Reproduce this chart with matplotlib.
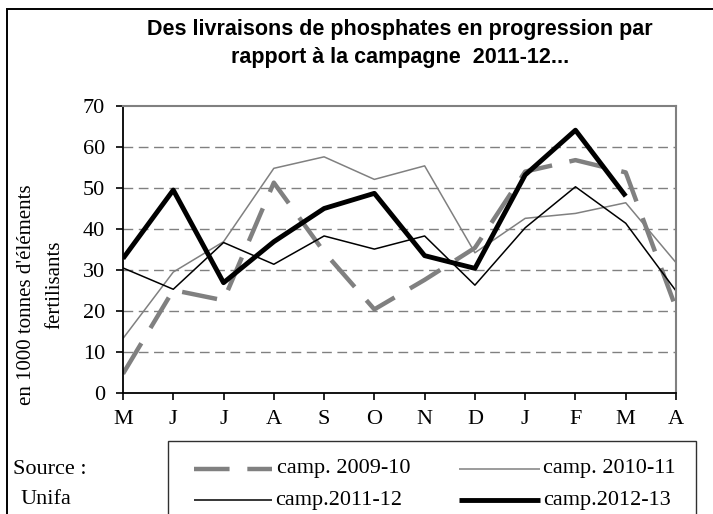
import matplotlib
matplotlib.use("Agg")
import matplotlib.pyplot as plt
from matplotlib.patches import Rectangle
from matplotlib.lines import Line2D
import numpy as np

months = ["M", "J", "J", "A", "S", "O", "N", "D", "J", "F", "M", "A"]
series_names = ["camp. 2009-10", "camp. 2010-11", "camp.2011-12", "camp.2012-13"]
v_2009_10 = [4.7, 25.1, 22.6, 51.3, 34.4, 20.4, 27.6, 35.4, 54.0, 56.8, 53.8, 20.7]
v_2010_11 = [13.3, 29.5, 36.9, 54.8, 57.6, 52.1, 55.4, 34.2, 42.6, 43.8, 46.4, 31.8]
v_2011_12 = [30.5, 25.3, 36.7, 31.4, 38.3, 35.1, 38.3, 26.3, 40.3, 50.3, 41.4, 24.9]
v_2012_13 = [32.8, 49.5, 26.9, 36.9, 45.0, 48.7, 33.5, 30.4, 53.2, 64.1, 48.0, np.nan]
y_ticks = [0, 10, 20, 30, 40, 50, 60, 70]

GRAY = "#808080"
styles = [
    dict(color=GRAY, lw=3.2, dashes=(8, 4)),
    dict(color=GRAY, lw=1.1),
    dict(color="black", lw=1.1),
    dict(color="black", lw=3.5),
]
values = [v_2009_10, v_2010_11, v_2011_12, v_2012_13]

W, H = 713, 514
fig = plt.figure(figsize=(W / 100, H / 100), dpi=100)
serif = "Liberation Serif"
sans = "Liberation Sans"
FS = 16

def fx(px):
    return px / W

def fy(py):
    return 1 - py / H

ax = fig.add_axes([fx(123), fy(393), fx(676) - fx(123), fy(106) - fy(393)])
x = np.arange(len(months))
for vals, st in zip(values, styles):
    ax.plot(x, vals, solid_capstyle="butt", dash_capstyle="butt", **st)

ax.set_xlim(0, len(months) - 1)
ax.set_ylim(0, 70)
ax.set_yticks(y_ticks)
ax.set_yticklabels([str(t) for t in y_ticks], fontfamily=serif, fontsize=FS)
ax.set_xticks(x)
ax.set_xticklabels(months, fontfamily=serif, fontsize=FS)
ax.tick_params(axis="both", direction="out", length=5, width=1.2, color="black")
ax.tick_params(axis="x", pad=7)
ax.tick_params(axis="y", pad=8)
for t in y_ticks[1:-1]:
    ax.axhline(t, color=GRAY, lw=1.0, dashes=(7, 4), zorder=0)
for s in ["left", "bottom"]:
    ax.spines[s].set_color("black")
    ax.spines[s].set_linewidth(1.3)
for s in ["top", "right"]:
    ax.spines[s].set_color(GRAY)
    ax.spines[s].set_linewidth(1.5)

# Title
fig.text(fx(400), fy(30), "Des livraisons de phosphates en progression par",
         ha="center", va="center", fontfamily=sans, fontweight="bold", fontsize=15.5)
fig.text(fx(400), fy(58), "rapport à la campagne  2011-12...",
         ha="center", va="center", fontfamily=sans, fontweight="bold", fontsize=15.5)

# Y label
fig.text(fx(27), fy(295), "en 1000 tonnes d'éléments", rotation=90,
         ha="center", va="center", fontfamily=serif, fontsize=15)
fig.text(fx(55), fy(285), "fertilisants", rotation=90,
         ha="center", va="center", fontfamily=serif, fontsize=15)

# Source
fig.text(fx(13), fy(469), "Source :", ha="left", va="center", fontfamily=serif, fontsize=FS)
fig.text(fx(46), fy(500), "Unifa", ha="center", va="center", fontfamily=serif, fontsize=FS)

# Legend box
fig.patches.append(Rectangle((fx(168), -0.1), fx(696) - fx(168), fy(441) + 0.1,
                             transform=fig.transFigure, fill=False,
                             edgecolor="#303030", lw=1.0))
leg_pos = [(194, 272, 277, 469), (459, 540, 543, 469), (194, 272, 275, 500), (459, 540, 543, 500)]
for name, st, (x0, x1, xt, yy) in zip(series_names, styles, leg_pos):
    fig.lines.append(Line2D([fx(x0), fx(x1)], [fy(yy), fy(yy)], transform=fig.transFigure,
                            solid_capstyle="butt", dash_capstyle="butt", **st))
    fig.text(fx(xt), fy(yy), name, ha="left", va="center", fontfamily=serif, fontsize=FS)

# Figure border (open on the right and bottom)
fig.patches.append(Rectangle((fx(6.5), -0.1), 1.2, fy(9) + 0.1,
                             transform=fig.transFigure, fill=False,
                             edgecolor="black", lw=1.4))

fig.savefig("out.png", dpi=100)
